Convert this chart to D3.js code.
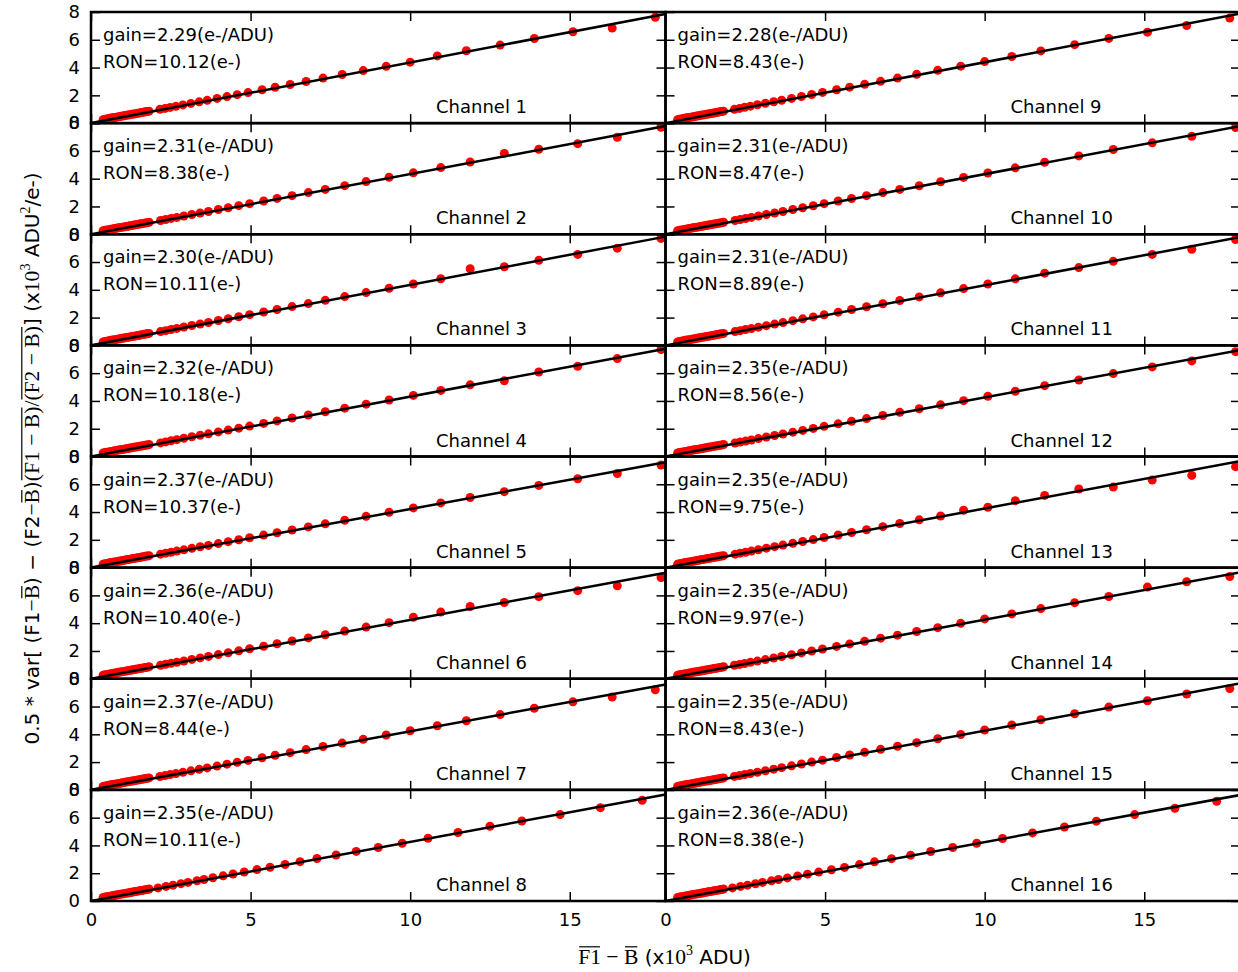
<!DOCTYPE html>
<html>
<head>
<meta charset="utf-8">
<script src="https://cdn.jsdelivr.net/npm/d3@7"></script>
<style>
  html, body { margin: 0; padding: 0; background: #fff; }
  svg { display: block; }
  text { white-space: pre; }
</style>
</head>
<body>
<div id="chart"></div>
<script>
// ---- data ----
const channels = [1, 2, 3, 4, 5, 6, 7, 8, 9, 10, 11, 12, 13, 14, 15, 16];
const gains = [2.29, 2.31, 2.30, 2.32, 2.37, 2.36, 2.37, 2.35, 2.28, 2.31, 2.31, 2.35, 2.35, 2.35, 2.35, 2.36];
const rons  = [10.12, 8.38, 10.11, 10.18, 10.37, 10.40, 8.44, 10.11, 8.43, 8.47, 8.89, 8.56, 9.75, 9.97, 8.43, 8.38];
// fitted line value at the right edge (x = 18)
const fitAt18 = [7.86, 7.79, 7.83, 7.76, 7.59, 7.63, 7.59, 7.66, 7.89, 7.79, 7.79, 7.66, 7.66, 7.66, 7.66, 7.63];

// dense low-signal points (same in every panel)
const denseX = [0.38, 0.44, 0.50, 0.56, 0.62, 0.68, 0.74, 0.80, 0.86, 0.92, 0.98, 1.04, 1.10,
                1.16, 1.22, 1.28, 1.34, 1.40, 1.46, 1.52, 1.58, 1.64, 1.70, 1.76, 1.82];
const denseY = [0.25, 0.28, 0.30, 0.33, 0.36, 0.38, 0.41, 0.43, 0.46, 0.48, 0.51, 0.53, 0.56,
                0.58, 0.61, 0.63, 0.66, 0.68, 0.71, 0.73, 0.76, 0.78, 0.81, 0.83, 0.86];

// spaced points, three exposure patterns
const sparseX1 = [2.16, 2.32, 2.48, 2.66, 2.88, 3.13, 3.39, 3.64, 3.95, 4.26, 4.58, 4.92, 5.36, 5.77,
                  6.24, 6.74, 7.27, 7.87, 8.53, 9.25, 10.0, 10.85, 11.76, 12.82, 13.89, 15.1, 16.33, 17.68];
const sparseX2 = [2.18, 2.34, 2.51, 2.69, 2.91, 3.16, 3.42, 3.68, 3.99, 4.30, 4.63, 4.97, 5.41, 5.83,
                  6.30, 6.81, 7.34, 7.95, 8.62, 9.34, 10.1, 10.96, 11.88, 12.95, 14.03, 15.25, 16.49, 17.86];
const sparseX3 = [2.10, 2.35, 2.57, 2.82, 3.04, 3.32, 3.54, 3.82, 4.14, 4.45, 4.80, 5.20, 5.61, 6.08,
                  6.55, 7.08, 7.68, 8.31, 9.00, 9.75, 10.56, 11.5, 12.5, 13.5, 14.7, 15.96, 17.27];
const sparseXByChannel = [sparseX1, sparseX2, sparseX2, sparseX2, sparseX2, sparseX2, sparseX1, sparseX3,
                          sparseX1, sparseX2, sparseX2, sparseX2, sparseX2, sparseX1, sparseX1, sparseX3];

const sparseY = [
  [0.99,1.06,1.13,1.21,1.31,1.42,1.53,1.64,1.78,1.91,2.05,2.20,2.40,2.58,2.78,3.00,3.24,3.50,3.78,4.09,4.39,4.84,5.21,5.62,6.09,6.58,6.84,7.62],
  [0.99,1.06,1.14,1.21,1.31,1.42,1.53,1.64,1.78,1.91,2.06,2.20,2.39,2.58,2.78,3.00,3.23,3.50,3.79,4.10,4.42,4.80,5.20,5.82,6.12,6.52,6.98,7.70],
  [0.99,1.06,1.14,1.22,1.32,1.43,1.54,1.65,1.79,1.92,2.06,2.21,2.40,2.58,2.79,3.01,3.24,3.51,3.80,4.11,4.42,4.80,5.52,5.66,6.12,6.55,7.00,7.70],
  [0.98,1.05,1.13,1.21,1.31,1.42,1.53,1.63,1.77,1.90,2.04,2.19,2.38,2.56,2.77,2.99,3.22,3.48,3.77,4.07,4.40,4.76,5.16,5.45,6.08,6.50,7.05,7.70],
  [0.97,1.04,1.11,1.19,1.28,1.39,1.50,1.60,1.73,1.87,2.01,2.15,2.34,2.51,2.71,2.93,3.15,3.41,3.69,3.99,4.30,4.66,5.05,5.47,5.92,6.40,6.78,7.38],
  [0.97,1.04,1.11,1.19,1.28,1.39,1.50,1.61,1.74,1.87,2.01,2.16,2.34,2.52,2.72,2.94,3.17,3.43,3.72,4.04,4.43,4.80,5.20,5.49,5.91,6.34,6.69,7.29],
  [0.96,1.03,1.10,1.17,1.26,1.37,1.48,1.58,1.71,1.85,1.98,2.12,2.31,2.49,2.68,2.90,3.12,3.37,3.64,3.95,4.26,4.62,4.98,5.42,5.88,6.34,6.68,7.20],
  [0.94,1.05,1.14,1.25,1.34,1.46,1.55,1.67,1.81,1.94,2.09,2.26,2.43,2.63,2.83,3.06,3.31,3.57,3.85,4.16,4.52,4.93,5.38,5.76,6.22,6.72,7.25],
  [0.99,1.06,1.14,1.22,1.32,1.43,1.54,1.65,1.78,1.92,2.06,2.21,2.40,2.59,2.79,3.01,3.24,3.51,3.80,4.10,4.43,4.80,5.20,5.65,6.10,6.55,7.03,7.56],
  [0.99,1.06,1.13,1.21,1.31,1.42,1.53,1.64,1.78,1.91,2.05,2.20,2.39,2.57,2.78,3.00,3.23,3.49,3.78,4.09,4.41,4.78,5.18,5.64,6.10,6.58,7.05,7.68],
  [0.99,1.06,1.14,1.21,1.31,1.42,1.53,1.64,1.78,1.91,2.05,2.20,2.39,2.58,2.78,3.00,3.23,3.49,3.78,4.09,4.42,4.79,5.20,5.60,6.05,6.55,6.92,7.62],
  [0.97,1.04,1.11,1.19,1.29,1.40,1.51,1.62,1.75,1.88,2.02,2.17,2.35,2.53,2.73,2.95,3.18,3.44,3.72,4.02,4.34,4.70,5.10,5.51,5.97,6.45,6.88,7.55],
  [0.97,1.04,1.11,1.19,1.29,1.40,1.51,1.62,1.75,1.88,2.02,2.17,2.35,2.53,2.73,2.95,3.18,3.44,3.72,4.13,4.35,4.82,5.20,5.66,5.80,6.30,6.64,7.27],
  [0.97,1.03,1.10,1.18,1.27,1.38,1.49,1.60,1.73,1.86,2.00,2.14,2.33,2.51,2.70,2.92,3.14,3.40,3.68,3.99,4.31,4.67,5.05,5.48,5.92,6.60,6.98,7.36],
  [0.97,1.03,1.10,1.18,1.27,1.38,1.49,1.60,1.73,1.86,2.00,2.14,2.33,2.51,2.70,2.92,3.14,3.40,3.68,3.99,4.31,4.67,5.05,5.48,5.96,6.42,6.90,7.30],
  [0.94,1.05,1.14,1.24,1.34,1.45,1.55,1.66,1.80,1.93,2.08,2.25,2.42,2.62,2.82,3.05,3.30,3.56,3.85,4.16,4.50,4.90,5.33,5.75,6.22,6.68,7.18]
];

const xTicks = [0, 5, 10, 15];
const yTicks = [0, 2, 4, 6, 8];
const xDomain = [0, 18];
const yDomain = [0, 8];

// ---- layout ----
const W = 1238, H = 972;
const marginLeft = 91, marginTop = 12;
const colW = 574.5, rowH = 111.125;
const SANS = "'DejaVu Sans', sans-serif";
const SERIF = "'Liberation Serif', 'DejaVu Serif', serif";
const FS = 18;       // tick labels and annotations
const LABEL_FS = 20; // axis titles

const svg = d3.select("#chart").append("svg")
  .attr("width", W).attr("height", H);

const x = d3.scaleLinear().domain(xDomain).range([0, colW]);
const y = d3.scaleLinear().domain(yDomain).range([rowH, 0]);

const line = d3.line().x(d => x(d[0])).y(d => y(d[1]));

channels.forEach((ch, i) => {
  const col = Math.floor(i / 8), row = i % 8;
  const g = svg.append("g")
    .attr("transform", `translate(${marginLeft + col * colW}, ${marginTop + row * rowH})`);

  const clipId = "clip" + ch;
  g.append("clipPath").attr("id", clipId)
    .append("rect").attr("width", colW).attr("height", rowH);

  const plot = g.append("g").attr("clip-path", `url(#${clipId})`);

  const pts = denseX.map((v, k) => [v, denseY[k]])
    .concat(sparseXByChannel[i].map((v, k) => [v, sparseY[i][k]]));

  plot.selectAll("circle")
    .data(pts)
    .enter().append("circle")
    .attr("cx", d => x(d[0]))
    .attr("cy", d => y(d[1]))
    .attr("r", 4.5)
    .attr("fill", "#ff0000");

  plot.append("path")
    .datum([[xDomain[0], 0], [xDomain[1], fitAt18[i]]])
    .attr("fill", "none")
    .attr("stroke", "#000")
    .attr("stroke-width", 2.5)
    .attr("d", line);

  // ticks pointing inward on all four sides
  const yl = g.append("g").call(d3.axisLeft(y).tickValues(yTicks).tickSizeInner(-9).tickSizeOuter(0)
    .tickPadding(11).tickFormat(col === 0 ? d3.format("d") : ""));
  const yr = g.append("g").attr("transform", `translate(${colW},0)`)
    .call(d3.axisRight(y).tickValues(yTicks).tickSizeInner(-9).tickSizeOuter(0).tickFormat(""));
  const xt = g.append("g")
    .call(d3.axisTop(x).tickValues(xTicks).tickSizeInner(-9).tickSizeOuter(0).tickFormat(""));
  const xb = g.append("g").attr("transform", `translate(0,${rowH})`)
    .call(d3.axisBottom(x).tickValues(xTicks).tickSizeInner(-9).tickSizeOuter(0)
      .tickPadding(12).tickFormat(row === 7 ? d3.format("d") : ""));

  [yl, yr, xt, xb].forEach(a => {
    a.select(".domain").remove();
    a.selectAll(".tick line").attr("stroke", "#000").attr("stroke-width", 1.5);
    a.selectAll(".tick text").attr("fill", "#000")
      .style("font-family", SANS).style("font-size", FS + "px");
  });

  // frame
  g.append("rect")
    .attr("width", colW).attr("height", rowH)
    .attr("fill", "none").attr("stroke", "#000").attr("stroke-width", 2.5);

  // annotations
  g.append("text").attr("x", 12).attr("y", 29)
    .style("font-family", SANS).style("font-size", FS + "px")
    .text(`gain=${gains[i].toFixed(2)}(e-/ADU)`);
  g.append("text").attr("x", 12).attr("y", 56)
    .style("font-family", SANS).style("font-size", FS + "px")
    .text(`RON=${rons[i].toFixed(2)}(e-)`);
  g.append("text").attr("x", 345).attr("y", rowH - 10)
    .style("font-family", SANS).style("font-size", FS + "px")
    .text(`Channel ${ch}`);
});

// ---- axis labels built from pieces (sans text mixed with serif math) ----
function richLabel(parent, pieces, fs) {
  const g = parent.append("g");
  let cx = 0;
  const bars = [];
  pieces.forEach(p => {
    const size = p.sup ? fs * 0.7 : (p.serif ? fs * 1.08 : fs);
    const t = g.append("text")
      .attr("x", cx).attr("y", p.sup ? -fs * 0.45 : 0)
      .style("font-family", p.serif ? SERIF : SANS)
      .style("font-size", size + "px")
      .text(p.t);
    const w = t.node().getComputedTextLength();
    if (p.bar) bars.push([cx + 1, cx + w - 1]);
    cx += w;
  });
  bars.forEach(b => {
    g.append("line")
      .attr("x1", b[0]).attr("x2", b[1])
      .attr("y1", -fs * 0.86).attr("y2", -fs * 0.86)
      .attr("stroke", "#000").attr("stroke-width", 1.2);
  });
  g.selectAll("*").attr("transform", `translate(${-cx / 2},0)`);
  return g;
}

const xLabelPieces = [
  { t: "F1", serif: true, bar: true },
  { t: " \u2212 ", serif: true },
  { t: "B", serif: true, bar: true },
  { t: " (x" },
  { t: "10", serif: true },
  { t: "3", serif: true, sup: true },
  { t: " ADU)" }
];
const yLabelPieces = [
  { t: "0.5 * var[ (F1" },
  { t: "\u2212", serif: true },
  { t: "B", serif: true, bar: true },
  { t: ") \u2212 (F2" },
  { t: "\u2212", serif: true },
  { t: "B", serif: true, bar: true },
  { t: ")" },
  { t: "(F1 \u2212 B)", serif: true, bar: true },
  { t: "/", serif: true },
  { t: "(F2 \u2212 B)", serif: true, bar: true },
  { t: "] (x" },
  { t: "10", serif: true },
  { t: "3", serif: true, sup: true },
  { t: " ADU" },
  { t: "2", serif: true, sup: true },
  { t: "/e-)" }
];

const xLab = richLabel(svg, xLabelPieces, LABEL_FS);
xLab.attr("transform", `translate(${marginLeft + colW - 1}, 964)`);

const yLab = richLabel(svg, yLabelPieces, LABEL_FS);
yLab.attr("transform", `translate(39, ${marginTop + 4 * rowH + 2}) rotate(-90)`);
</script>
</body>
</html>
